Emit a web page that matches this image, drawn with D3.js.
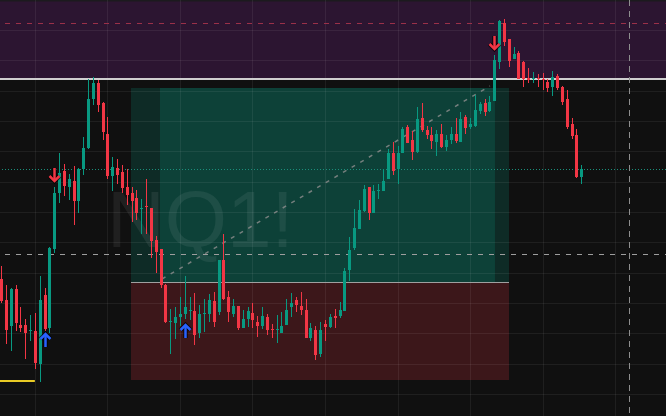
<!DOCTYPE html>
<html><head><meta charset="utf-8">
<script src="https://cdn.jsdelivr.net/npm/d3@7"></script>
<style>html,body{margin:0;padding:0;background:#101010;overflow:hidden}</style>
</head><body><svg id="c" width="666" height="416"></svg>
<script>
const symbol = "NQ1!";
const open = [
18121,18100,18074,18111,18075,18075,18069.5,18069,18036,18105,
18072,18151,18207,18229,18213,18219,18199,18231,18252,18301,
18317,18297,18266,18224,18232,18228,18213,18207,18202,18191.5,
18194,18192,18160,18151,18115,18078.5,18077,18083,18086,18089.5,
18089,18067,18086.5,18086,18099,18088,18140,18103,18086,18094,
18072,18081,18087,18078,18074,18083,18071.5,18070.5,18067,18075,
18093,18100,18094,18090,18062,18070,18046,18076,18073,18084,
18084,18089,18130,18152,18171,18189,18213,18187,18209.5,18209,
18221,18247,18231,18247,18273,18260,18248,18282,18270,18265,
18258,18266,18253,18260,18266,18258,18283,18273,18274,18289,
18297,18289,18299,18338,18377,18361,18341,18347,18338,18322,
18321.5,18322.5,18321,18318,18313,18324,18313,18301,18276,18265,
18223];
const high = [
18134,18115,18112,18115,18093,18081,18085,18087,18124,18112,
18153,18213,18247,18236,18226,18234,18232,18263,18321,18323,
18320,18298,18283,18243,18241,18235,18231,18213,18210,18201,
18221,18192,18164,18151,18116,18091,18093,18103,18124,18103,
18107,18095,18101,18106,18108,18140,18166,18109,18101,18094,
18090,18093,18097,18084,18093,18086,18076,18085,18088,18101,
18107,18103,18108,18101,18077,18074,18078,18080,18086,18091,
18098,18132,18163,18191,18200,18215,18213,18215,18216,18231,
18251,18258,18254,18273,18275,18269,18293,18297,18274,18273,
18270,18276,18265,18273,18282,18288,18285,18282,18305,18298,
18301,18304,18345,18380,18381,18361,18353,18349,18339,18332,
18328,18326,18327,18321,18329,18326,18314,18310,18282,18271,
18235];
const low = [
18097,18056,18049,18069,18068,18041,18059,18031,18018,18069,
18067,18147,18197,18204,18200,18175,18187,18225,18251,18295,
18288,18260,18221,18209,18216,18207,18195,18178,18180,18166,
18166,18142,18127,18112,18077,18046,18061,18074,18081,18080,
18055,18062,18068,18078,18073,18085,18100,18078,18083,18070,
18072,18073,18072,18063,18071,18065,18062,18057,18067,18075,
18083,18088,18085,18062,18059,18040,18043,18059,18072,18072,
18082,18089,18119,18150,18171,18188,18180,18187,18201,18209,
18221,18225,18216,18247,18257,18240,18247,18268,18261,18251,
18244,18252,18249,18256,18257,18258,18266,18271,18273,18286,
18284,18288,18299,18331,18354,18333,18341,18321,18313,18317,
18317,18313,18310,18308,18304,18310,18295,18271,18261,18222,
18216];
const close = [
18099,18070,18111,18077,18072,18067,18070,18037,18100,18071,
18152,18207,18227,18214,18221,18199,18231,18252,18301,18317,
18295,18268,18224,18233,18225,18212,18205,18199,18187,18192,
18193,18159,18148,18115,18078,18079,18083,18086,18093,18090,
18065,18086,18087,18100,18078,18140,18101,18088,18094,18072,
18081,18089,18080,18074,18084,18070,18071,18071,18074,18090,
18097,18095,18090,18062,18072,18045,18070,18073,18083,18082,
18090,18129,18150,18172,18190,18211,18187,18209,18210,18219,
18247,18229,18247,18271,18257,18248,18281,18270,18265,18259,
18266,18253,18260,18266,18259,18281,18272,18276,18290,18296,
18288,18298,18340,18379,18358,18339,18346,18321,18321,18320,
18322,18322,18320,18312,18323,18312,18298,18273,18264,18223,
18231];

const gridIndex = [7,22,37,52,67,82,97,112,127];
const gridPrice = [18370,18339.7,18309.3,18279,18248.7,18218.3,18188,18157.7,18127.3,18097,18066.7,18036.3,18006];
const supplyZone = [18400, 18322];       // purple zone top/bottom
const zoneEdge = 18321;                   // light line at zone bottom
const redDashLevel = 18376.7;
const tealDotLevel = 18230.7;
const grayDashLevel = 18145.7;
const posBoxOuter = [26.88, 105.05];      // bar index range
const posBoxInner = [32.88, 102.15];
const posTarget = 18312, posEntry = 18118, posStop = 18020;
const cursorIndex = 130;
const yellowLine = {from: -0.3, to: 7.0, price: 18019};
const trendLine = [{i: 33.3, p: 18121}, {i: 101.1, p: 18314}];
const sellSignals = [{i: 11, p: 18218}, {i: 102, p: 18350}];
const buySignals = [{i: 9, p: 18067}, {i: 38, p: 18076}];

const W = 666, H = 416;
const svg = d3.select("#c");
const x = d3.scaleLinear().domain([0, 120]).range([1, 581.3]);
const y = d3.scaleLinear().domain([17984, 18400]).range([H, 0]);

svg.append("rect").attr("width", W).attr("height", H).attr("fill", "#101010");

// zones
svg.append("rect").attr("x", 0).attr("y", y(supplyZone[0])).attr("width", W)
  .attr("height", y(supplyZone[1]) - y(supplyZone[0])).attr("fill", "#2c1531");
svg.append("rect").attr("x", 0).attr("y", 0).attr("width", W).attr("height", 1.5).attr("fill", "#1c1a1e");

const green = "rgba(8,153,129,0.2)", redF = "rgba(242,54,69,0.2)";
[posBoxOuter, posBoxInner].forEach(b => {
  svg.append("rect").attr("x", x(b[0])).attr("y", y(posTarget))
    .attr("width", x(b[1]) - x(b[0])).attr("height", y(posEntry) - y(posTarget)).attr("fill", green);
});
svg.append("rect").attr("x", x(posBoxOuter[0])).attr("y", y(posEntry))
  .attr("width", x(posBoxOuter[1]) - x(posBoxOuter[0])).attr("height", y(posStop) - y(posEntry)).attr("fill", redF);

// grid
const g = svg.append("g").attr("shape-rendering", "crispEdges");
gridIndex.forEach(i => g.append("line").attr("x1", Math.round(x(i)) + 0.5).attr("x2", Math.round(x(i)) + 0.5)
  .attr("y1", 0).attr("y2", H).attr("stroke", "rgba(255,255,255,0.065)"));
gridPrice.forEach(p => g.append("line").attr("x1", 0).attr("x2", W)
  .attr("y1", Math.round(y(p)) + 0.5).attr("y2", Math.round(y(p)) + 0.5).attr("stroke", "rgba(255,255,255,0.065)"));

// watermark
svg.append("text").attr("x", 107).attr("y", 247).text(symbol)
  .attr("font-family", "Liberation Sans, Arial, sans-serif").attr("font-size", 80)
  .attr("fill", "rgba(255,255,255,0.07)");

// entry line
svg.append("line").attr("x1", x(posBoxOuter[0])).attr("x2", x(posBoxOuter[1]))
  .attr("y1", Math.round(y(posEntry)) + 0.5).attr("y2", Math.round(y(posEntry)) + 0.5)
  .attr("stroke", "#a0a0a0").attr("stroke-width", 1);

// levels
svg.append("line").attr("x1", 0).attr("x2", W).attr("y1", y(zoneEdge)).attr("y2", y(zoneEdge))
  .attr("stroke", "#cfcfcf").attr("stroke-width", 2);
svg.append("line").attr("x1", 5).attr("x2", W).attr("y1", Math.round(y(redDashLevel)) + 0.5).attr("y2", Math.round(y(redDashLevel)) + 0.5)
  .attr("stroke", "#9b3049").attr("stroke-dasharray", "5,6");
svg.append("line").attr("x1", 2).attr("x2", W).attr("y1", Math.round(y(tealDotLevel)) + 0.5).attr("y2", Math.round(y(tealDotLevel)) + 0.5)
  .attr("stroke", "#1b8f7b").attr("stroke-dasharray", "1,2");
svg.append("line").attr("x1", 5).attr("x2", W).attr("y1", Math.round(y(grayDashLevel)) + 0.5).attr("y2", Math.round(y(grayDashLevel)) + 0.5)
  .attr("stroke", "#9e9e9e").attr("stroke-dasharray", "5,6");
svg.append("line").attr("x1", Math.round(x(cursorIndex)) - 0.5).attr("x2", Math.round(x(cursorIndex)) - 0.5).attr("y1", 0).attr("y2", H)
  .attr("stroke", "#8e8e8e").attr("stroke-dasharray", "6,5");
svg.append("line").attr("x1", x(yellowLine.from)).attr("x2", x(yellowLine.to))
  .attr("y1", y(yellowLine.price)).attr("y2", y(yellowLine.price)).attr("stroke", "#e9cb25").attr("stroke-width", 2);

// trend line
svg.append("line").attr("x1", x(trendLine[0].i)).attr("y1", y(trendLine[0].p))
  .attr("x2", x(trendLine[1].i)).attr("y2", y(trendLine[1].p))
  .attr("stroke", "#8f8f8f").attr("stroke-width", 1.5).attr("stroke-dasharray", "4,6").attr("opacity", 0.8);

// candles
const cg = svg.append("g").attr("shape-rendering", "crispEdges");
open.forEach((o, i) => {
  const c = close[i], up = c >= o;
  const col = up ? "#089981" : "#f23645";
  const cx = Math.round(x(i));
  cg.append("line").attr("x1", cx + 0.5).attr("x2", cx + 0.5)
    .attr("y1", y(high[i])).attr("y2", y(low[i])).attr("stroke", col);
  const top = y(Math.max(o, c)), bot = y(Math.min(o, c));
  cg.append("rect").attr("x", cx - 1).attr("width", 3)
    .attr("y", top).attr("height", Math.max(1, bot - top)).attr("fill", col);
});

// signals
function arrow(i, p, dir, col) {
  const cx = Math.round(x(i)) + 0.5, ty = y(p);
  const s = dir === "down" ? -1 : 1;   // shaft extends away from tip
  const shaft = `M${cx},${ty + s * 1} L${cx},${ty + s * 14}`;
  const head = `M${cx - 5},${ty + s * 6} L${cx},${ty + s * 1} L${cx + 5},${ty + s * 6}`;
  [shaft, head].forEach(d => svg.append("path").attr("d", d).attr("fill", "none")
    .attr("stroke", "rgba(0,0,0,0.7)").attr("stroke-width", 4.5));
  [shaft, head].forEach(d => svg.append("path").attr("d", d).attr("fill", "none")
    .attr("stroke", col).attr("stroke-width", 2.5));
}
sellSignals.forEach(s => arrow(s.i, s.p, "down", "#f23645"));
buySignals.forEach(s => arrow(s.i, s.p, "up", "#2962ff"));
</script></body></html>
